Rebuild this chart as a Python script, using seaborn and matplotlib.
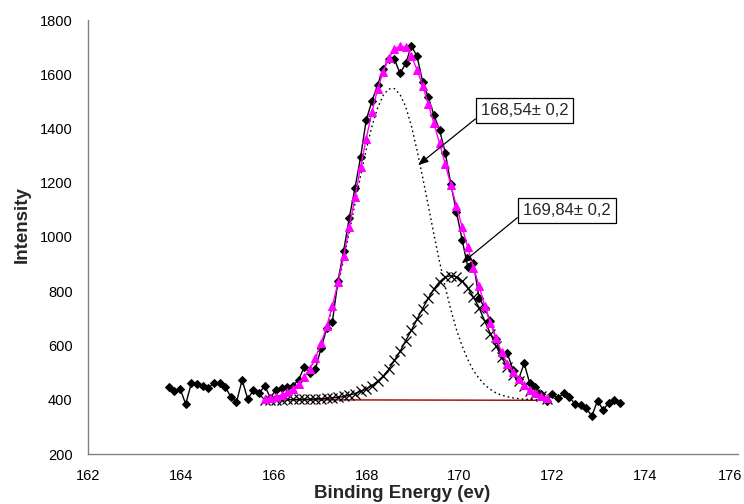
import numpy as np
import pandas as pd
import matplotlib
matplotlib.use("Agg")
import matplotlib.pyplot as plt
import matplotlib.transforms as mtransforms
import seaborn as sns

# Binding-energy sampling grid of the scan (eV)
energy = np.round(np.linspace(163.74, 173.46, 81), 3)

# Measured S 2p counts
counts = [448, 432, 441, 384, 461, 458, 451, 442, 463, 463,
          448, 411, 391, 473, 402, 436, 424, 451, 408, 436,
          444, 446, 452, 473, 520, 500, 514, 590, 663, 688,
          839, 950, 1071, 1180, 1294, 1431, 1500, 1560, 1620, 1655,
          1655, 1603, 1640, 1704, 1667, 1573, 1515, 1450, 1394, 1311,
          1195, 1092, 990, 889, 905, 775, 740, 690, 625, 565,
          573, 510, 475, 534, 460, 448, 420, 397, 421, 405,
          426, 411, 384, 381, 368, 340, 397, 362, 389, 399,
          389]

# Fit window: indices into the energy grid
fit_start, fit_stop = 17, 68

# Component 1 (168.54 eV)
comp1 = [404, 407, 411, 417, 426, 439, 457, 481, 511, 552,
         603, 665, 739, 823, 917, 1018, 1122, 1225, 1322, 1407,
         1475, 1522, 1546, 1547, 1525, 1480, 1410, 1320, 1220, 1116,
         1010, 909, 816, 732, 659, 598, 548, 508, 479, 455,
         438, 425, 417, 411, 407, 404, 402, 401, 401, 400,
         400]

# Component 2 (169.84 eV)
comp2 = [400, 400, 400, 400, 401, 401, 401, 402, 402, 403,
         404, 405, 407, 409, 412, 417, 423, 431, 440, 452,
         468, 487, 512, 545, 578, 618, 656, 696, 736, 774,
         808, 835, 852, 858, 853, 838, 812, 778, 740, 690,
         644, 600, 557, 520, 492, 470, 452, 434, 422, 412,
         404]

# Linear background under the fit
bg_energy = [165.805, 171.88]
bg_level = [400, 398]

# Peak position labels
label_1 = "168,54\u00b1 0,2"
label_2 = "169,84\u00b1 0,2"

fit_energy = energy[fit_start:fit_stop]
bg_interp = np.interp(fit_energy, bg_energy, bg_level)
envelope = np.array(comp1) + np.array(comp2) - bg_interp

raw = pd.DataFrame({"energy": energy, "counts": counts})
fit = pd.DataFrame({"energy": fit_energy, "comp1": comp1,
                    "comp2": comp2, "envelope": envelope})
bg = pd.DataFrame({"energy": bg_energy, "level": bg_level})

sns.set_style("white")
plt.rcParams["font.family"] = ["Liberation Sans", "DejaVu Sans"]

fig = plt.figure(figsize=(7.44, 5.04), dpi=100)
ax = fig.add_axes([88 / 744, 1 - 454 / 504, 650 / 744, 434 / 504])

sns.lineplot(data=bg, x="energy", y="level", ax=ax, color="#990000",
             linewidth=1.0, zorder=2)
sns.lineplot(data=fit, x="energy", y="comp1", ax=ax, color="black",
             linewidth=1.0, linestyle=(0, (1.2, 2.2)), zorder=3)
sns.lineplot(data=fit, x="energy", y="comp2", ax=ax, color="black",
             linewidth=1.0, marker="x", markersize=6.5, markeredgewidth=0.9,
             markeredgecolor="black", zorder=4)
sns.lineplot(data=raw, x="energy", y="counts", ax=ax, color="black",
             linewidth=1.0, marker="D", markersize=4.5, markeredgecolor="black",
             zorder=5)
sns.lineplot(data=fit, x="energy", y="envelope", ax=ax, color="#ff00ff",
             linewidth=1.0, marker="^", markersize=6, markeredgecolor="#ff00ff",
             zorder=6)

ax.set_xlim(162, 176)
ax.set_ylim(200, 1800)
ax.set_xticks(np.arange(162, 177, 2))
ax.set_yticks(np.arange(200, 1801, 200))

for side in ("top", "right"):
    ax.spines[side].set_visible(False)
for side in ("left", "bottom"):
    ax.spines[side].set_color("#808080")
    ax.spines[side].set_linewidth(1.0)
ax.tick_params(axis="both", direction="out", length=5, width=1.0,
               color="#808080", labelsize=10.5, labelcolor="black")
ax.tick_params(axis="y", pad=6)
ax.tick_params(axis="x", pad=6)

# keep the last x tick label inside the figure edge
fig.canvas.draw()
last = ax.get_xticklabels()[-1]
last.set_transform(last.get_transform() +
                   mtransforms.ScaledTranslation(-8 / 100, 0, fig.dpi_scale_trans))

ax.set_xlabel("Binding Energy (ev)", fontsize=13.5, fontweight="bold")
ax.xaxis.label.set_va("center")
ax.xaxis.set_label_coords(0.483, -0.092)
ax.set_ylabel("Intensity", fontsize=13.5, fontweight="bold")
ax.yaxis.label.set_va("center")
ax.yaxis.set_label_coords(-0.1015, 0.528)

box = dict(boxstyle="square,pad=0.3", fc="white", ec="black", lw=0.9)
arrow = dict(arrowstyle="-|>,head_length=0.5,head_width=0.2",
             color="black", lw=0.9, shrinkA=0, shrinkB=0)
ax.annotate(label_1, xy=(169.11, 1265), xytext=(171.405, 1468),
            ha="center", va="center", fontsize=12, bbox=box,
            arrowprops=dict(arrow, relpos=(0.0, 0.2)), zorder=8)
ax.annotate(label_2, xy=(170.05, 903), xytext=(172.31, 1097),
            ha="center", va="center", fontsize=12, bbox=box,
            arrowprops=dict(arrow, relpos=(0.0, 0.33)), zorder=8)

fig.savefig("out.png", dpi=100)
